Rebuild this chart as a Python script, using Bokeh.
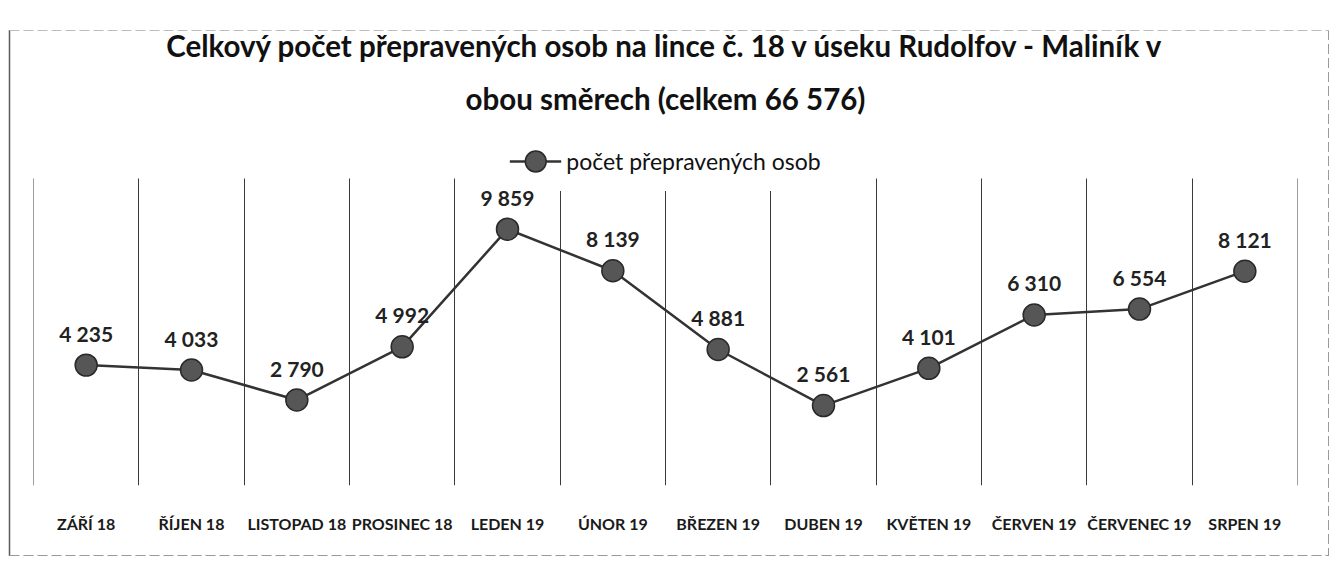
from urllib.parse import quote
from bokeh.plotting import figure
from bokeh.models import (ColumnDataSource, Range1d, FixedTicker, LabelSet,
                          Legend, LegendItem, Title, LinearAxis)
from bokeh.core.properties import value
from bokeh.embed import file_html
from bokeh.resources import INLINE

months = ["ZÁŘÍ 18", "ŘÍJEN 18", "LISTOPAD 18", "PROSINEC 18", "LEDEN 19",
          "ÚNOR 19", "BŘEZEN 19", "DUBEN 19", "KVĚTEN 19", "ČERVEN 19",
          "ČERVENEC 19", "SRPEN 19"]
passengers = [4235, 4033, 2790, 4992, 9859, 8139, 4881, 2561, 4101, 6310,
              6554, 8121]
series_name = "počet přepravených osob"
title_line1 = "Celkový počet přepravených osob na lince č. 18 v úseku Rudolfov - Maliník v"
title_line2 = "obou směrech (celkem 66 576)"

FONT = "Lato"

xs = list(range(len(months)))
bounds = [i - 0.5 for i in range(len(months) + 1)]
labels = [f"{v:,}".replace(",", " ") for v in passengers]
src = ColumnDataSource(dict(x=xs, v=passengers, label=labels))

# decorative chart-object border (as in the scanned document)
border_svg = (
    "<svg xmlns='http://www.w3.org/2000/svg' width='1336' height='568'>"
    "<line x1='9.5' y1='30' x2='9.5' y2='556' stroke='#5a5a5a' stroke-width='1.5'/>"
    "<line x1='9.5' y1='555.5' x2='1329' y2='555.5' stroke='#9a9a9a' stroke-dasharray='10 4'/>"
    "<line x1='1328.5' y1='30' x2='1328.5' y2='556' stroke='#9a9a9a' stroke-dasharray='10 4'/>"
    "<line x1='9.5' y1='30.5' x2='1329' y2='30.5' stroke='#bdbdbd' stroke-dasharray='10 4'/>"
    "</svg>"
)

p = figure(width=1336, height=568, output_backend="svg", toolbar_location=None,
           x_range=Range1d(-0.5, len(months) - 0.5), y_range=Range1d(-745, 13900),
           min_border_left=33, min_border_right=39, min_border_top=131,
           min_border_bottom=83)
p.background_fill_alpha = 0
p.border_fill_alpha = 0
p.styles = {"background-color": "white",
            "background-image": f'url("data:image/svg+xml,{quote(border_svg)}")',
            "background-repeat": "no-repeat"}
p.outline_line_color = None
p.yaxis.visible = False
p.ygrid.visible = False
p.xgrid.visible = False

# category boundary lines (drawn as inward ticks of the x axis)
bx = p.xaxis[0]
bx.ticker = FixedTicker(ticks=bounds)
bx.major_label_overrides = {b: "" for b in bounds}
bx.major_label_text_font_size = "0px"
bx.major_label_standoff = 0
bx.axis_line_color = None
bx.major_tick_in = 307
bx.major_tick_out = 0
bx.minor_tick_line_color = None
bx.major_tick_line_color = "#3a3a3a"
bx.major_tick_line_width = 1
bx.level = "underlay"

lx = LinearAxis(ticker=FixedTicker(ticks=xs),
                major_label_overrides={i: m for i, m in enumerate(months)})
lx.axis_line_color = None
lx.major_tick_line_color = None
lx.minor_tick_line_color = None
lx.major_label_standoff = 22
lx.major_label_text_font = FONT
lx.major_label_text_font_style = "bold"
lx.major_label_text_font_size = "16px"
lx.major_label_text_color = "#1a1a1a"
p.add_layout(lx, "below")

line_r = p.line("x", "v", source=src, line_color="#333333", line_width=2.5)
pts_r = p.scatter("x", "v", source=src, size=22, fill_color="#565656",
                  line_color="#2a2a2a", line_width=1.5)

lbls = LabelSet(x="x", y="v", text="label", source=src, y_offset=32,
                text_align="center", text_baseline="middle",
                text_font=value(FONT), text_font_style="bold",
                text_font_size="21px", text_color="#222222")
p.add_layout(lbls)

legend = Legend(items=[LegendItem(label=series_name, renderers=[line_r, pts_r])],
                orientation="horizontal", location="top_center",
                label_text_font=FONT, label_text_font_size="23px",
                label_text_color="#111111", glyph_width=52, glyph_height=60,
                border_line_color=None, background_fill_color="white",
                background_fill_alpha=1, margin=0, padding=2, spacing=0)
p.add_layout(legend)

t2 = Title(text=title_line2, align="center", text_font=FONT,
           text_font_size="29.5px", text_font_style="bold", text_color="#111111",
           text_line_height=0.8, standoff=32)
t1 = Title(text=title_line1, align="center", text_font=FONT,
           text_font_size="29.5px", text_font_style="bold", text_color="#111111",
           text_line_height=0.8, standoff=0)
p.add_layout(t2, "above")
p.add_layout(t1, "above")

open("out.html", "w").write(file_html(p, INLINE))
